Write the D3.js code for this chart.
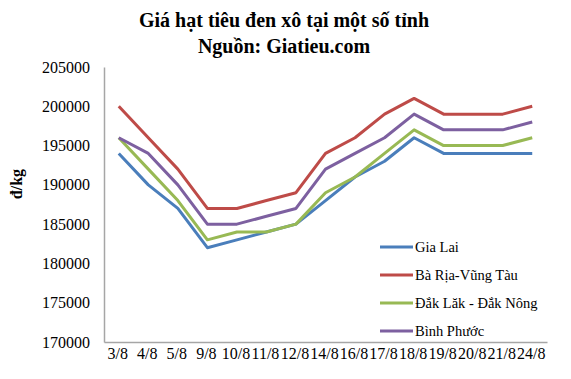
<!DOCTYPE html>
<html><head><meta charset="utf-8">
<script src="https://cdn.jsdelivr.net/npm/d3@7"></script>
<style>body{margin:0;background:#fff}svg{display:block}svg text{font-family:"Times New Roman","Liberation Serif","DejaVu Serif",serif !important}</style>
</head><body>
<svg id="c" width="571" height="379"></svg>
<script>
const categories = ["3/8","4/8","5/8","9/8","10/8","11/8","12/8","14/8","16/8","17/8","18/8","19/8","20/8","21/8","24/8"];
const giaLai   = [194000,190000,187000,182000,183000,184000,185000,188000,191000,193000,196000,194000,194000,194000,194000];
const baRia    = [200000,196000,192000,187000,187000,188000,189000,194000,196000,199000,201000,199000,199000,199000,200000];
const dakLak   = [196000,192000,188000,183000,184000,184000,185000,189000,191000,194000,197000,195000,195000,195000,196000];
const binhPhuoc= [196000,194000,190000,185000,185000,186000,187000,192000,194000,196000,199000,197000,197000,197000,198000];
const seriesNames = ["Gia Lai","Bà Rịa-Vũng Tàu","Đắk Lăk - Đắk Nông","Bình Phước"];
const yTicks = [170000,175000,180000,185000,190000,195000,200000,205000];
const colors = ["#4a7ebb","#be4b48","#98b954","#7d60a0"];
const series = [giaLai, baRia, dakLak, binhPhuoc];
const FF = '"Times New Roman","Liberation Serif","DejaVu Serif",serif';

const svg = d3.select("#c");
const L = 104, R = 547, T = 67, B = 342;
const x = d3.scaleBand().domain(categories).range([L, R]);
const y = d3.scaleLinear().domain([170000, 205000]).range([B, T]);

// title
svg.append("text").attr("x", 284).attr("y", 27).attr("text-anchor","middle").attr("font-family", FF)
  .attr("font-size", 20).attr("font-weight","bold").text("Giá hạt tiêu đen xô tại một số tỉnh");
svg.append("text").attr("x", 284).attr("y", 53).attr("text-anchor","middle").attr("font-family", FF)
  .attr("font-size", 20).attr("font-weight","bold").text("Nguồn: Giatieu.com");

// axes
const yAxis = svg.append("g").attr("transform", `translate(${L},0)`)
  .call(d3.axisLeft(y).tickValues(yTicks).tickSize(0).tickPadding(14).tickFormat(d3.format("d")));
yAxis.attr("font-family", FF);
yAxis.select(".domain").attr("stroke", "#a6a6a6").attr("stroke-width", 1.5);
yAxis.selectAll("text").attr("font-size", 16).attr("fill", "#000");

const xAxis = svg.append("g").attr("transform", `translate(0,${B})`)
  .call(d3.axisBottom(x).tickSize(0).tickPadding(6));
xAxis.attr("font-family", FF);
xAxis.select(".domain").attr("stroke", "#a6a6a6").attr("stroke-width", 1.5);
xAxis.selectAll("text").attr("font-size", 16).attr("fill", "#000").attr("dx", -1);

// y label
svg.append("text").attr("transform", "translate(22,184) rotate(-90)").attr("text-anchor","middle")
  .attr("font-family", FF).attr("font-size", 16).attr("font-weight","bold").text("đ/kg");

// lines
const line = d3.line().x((d,i) => x(categories[i]) + x.bandwidth()/2).y(d => y(d));
series.forEach((s, k) => {
  svg.append("path").datum(s).attr("d", line).attr("fill","none")
    .attr("stroke", colors[k]).attr("stroke-width", 3).attr("stroke-linejoin","round");
});

// legend
svg.append("clipPath").attr("id","lc").append("rect").attr("x",370).attr("y",228).attr("width",200).attr("height",109);
const lg = svg.append("g").attr("clip-path","url(#lc)");
lg.append("rect").attr("x",372).attr("y",230).attr("width",176).attr("height",110).attr("fill","#fff");
const rowsY = [247, 275, 303, 331];
seriesNames.forEach((n, k) => {
  lg.append("line").attr("x1",380).attr("x2",413).attr("y1",rowsY[k]).attr("y2",rowsY[k])
    .attr("stroke", colors[k]).attr("stroke-width", 3);
  lg.append("text").attr("x",415).attr("y",rowsY[k]+5).attr("font-family", FF).attr("font-size",14.5).text(n);
});
</script>
</body></html>
